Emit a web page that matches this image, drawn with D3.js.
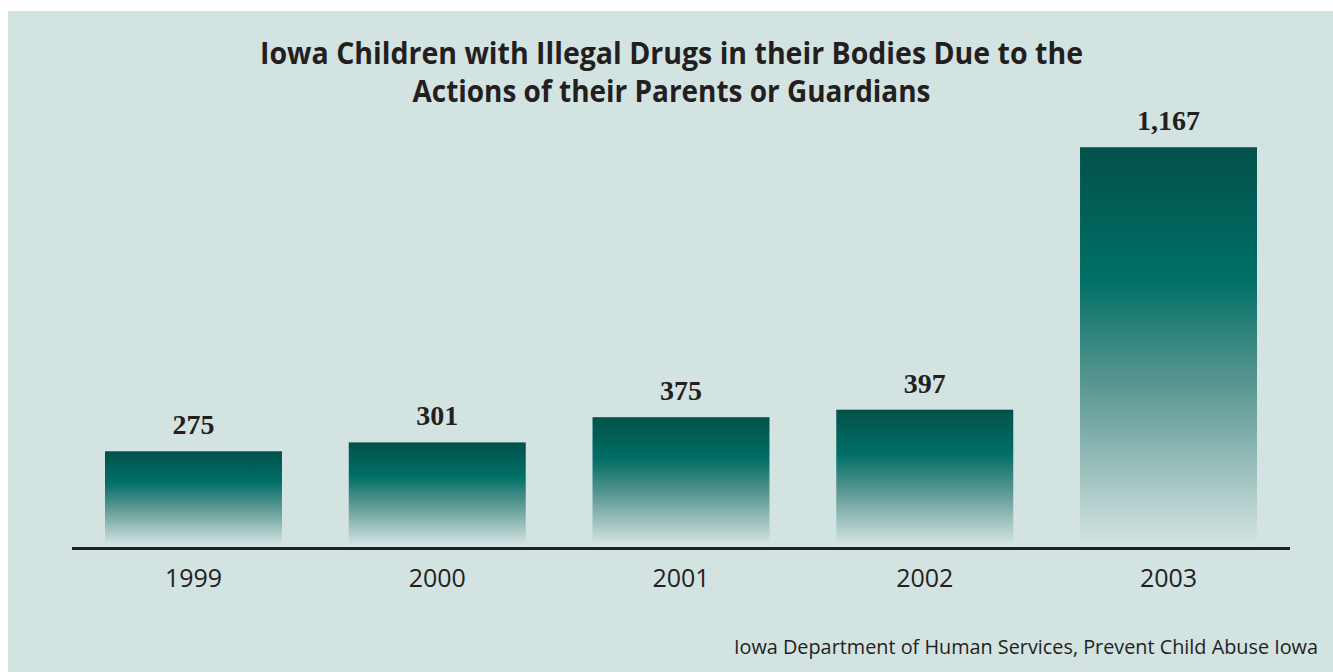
<!DOCTYPE html>
<html>
<head>
<meta charset="utf-8">
<script src="https://cdn.jsdelivr.net/npm/d3@7"></script>
<style>
  body { margin: 0; background: #ffffff; }
  svg { display: block; }
</style>
</head>
<body>
<div id="chart"></div>
<script>
// data
var years = ["1999", "2000", "2001", "2002", "2003"];
var children = [275, 301, 375, 397, 1167];
var titleLines = ["Iowa Children with Illegal Drugs in their Bodies Due to the",
                  "Actions of their Parents or Guardians"];
var sourceText = "Iowa Department of Human Services, Prevent Child Abuse Iowa";

var width = 1333;
var height = 672;
var ink = "#231f20";

var svg = d3.select("#chart")
            .append("svg")
            .attr("width", width)
            .attr("height", height);

// panel
svg.append("rect")
   .attr("x", 8)
   .attr("y", 11)
   .attr("width", width - 8)
   .attr("height", height - 11)
   .style("fill", "#d3e3e2");

// bar gradient (dark at top, fades into the panel at the bottom)
var grad = svg.append("defs")
              .append("linearGradient")
              .attr("id", "barFill")
              .attr("x1", 0).attr("y1", 0)
              .attr("x2", 0).attr("y2", 1);
grad.append("stop").attr("offset", "0%").attr("stop-color", "#02514a");
grad.append("stop").attr("offset", "33%").attr("stop-color", "#006f66");
grad.append("stop").attr("offset", "60%").attr("stop-color", "#5a9791");
grad.append("stop").attr("offset", "100%").attr("stop-color", "#d5e4e3");

var x = d3.scaleBand()
          .domain(years)
          .range([105, 1257])
          .paddingInner(0.274)
          .paddingOuter(0);

var y = d3.scaleLinear()
          .domain([0, 1200])
          .range([545, 136]);

var rows = years.map(function(d, i) { return { year: d, value: children[i] }; });

svg.selectAll("rect.bar")
   .data(rows)
   .enter()
   .append("rect")
   .attr("class", "bar")
   .attr("x", function(d) { return x(d.year); })
   .attr("y", function(d) { return y(d.value); })
   .attr("width", x.bandwidth())
   .attr("height", function(d) { return y(0) - y(d.value); })
   .style("fill", "url(#barFill)");

svg.selectAll("text.value")
   .data(rows)
   .enter()
   .append("text")
   .attr("class", "value")
   .attr("x", function(d) { return x(d.year) + x.bandwidth() / 2; })
   .attr("y", function(d) { return y(d.value) - 17; })
   .attr("text-anchor", "middle")
   .style("font-family", "'Liberation Serif', 'DejaVu Serif', serif")
   .style("font-weight", "bold")
   .style("font-size", "28px")
   .style("fill", ink)
   .text(function(d) { return d3.format(",")(d.value); });

// baseline rule
svg.append("line")
   .attr("x1", x.range()[0] - 33)
   .attr("x2", x.range()[1] + 33)
   .attr("y1", y(0) + 3.5)
   .attr("y2", y(0) + 3.5)
   .style("stroke", ink)
   .style("stroke-width", 3);

// year labels
var xAxis = svg.append("g")
               .attr("transform", "translate(0," + (y(0) + 3) + ")")
               .call(d3.axisBottom(x).tickSize(0).tickPadding(21));
xAxis.select(".domain").remove();
xAxis.selectAll("text")
     .style("font-family", "'Open Sans', 'DejaVu Sans', sans-serif")
     .style("font-size", "25px")
     .style("fill", ink);

// title
svg.selectAll("text.title")
   .data(titleLines)
   .enter()
   .append("text")
   .attr("class", "title")
   .attr("x", 671.5)
   .attr("y", function(d, i) { return 64 + i * 38; })
   .attr("text-anchor", "middle")
   .attr("textLength", function(d, i) { return i === 0 ? 823 : 518; })
   .attr("lengthAdjust", "spacingAndGlyphs")
   .style("font-family", "'Open Sans', 'DejaVu Sans', sans-serif")
   .style("font-weight", "bold")
   .style("font-size", "31px")
   .style("fill", ink)
   .text(function(d) { return d; });

// source
svg.append("text")
   .attr("x", 1318)
   .attr("y", 654)
   .attr("text-anchor", "end")
   .attr("textLength", 584)
   .attr("lengthAdjust", "spacingAndGlyphs")
   .style("font-family", "'Open Sans', 'DejaVu Sans', sans-serif")
   .style("font-size", "20px")
   .style("fill", ink)
   .text(sourceText);
</script>
</body>
</html>
